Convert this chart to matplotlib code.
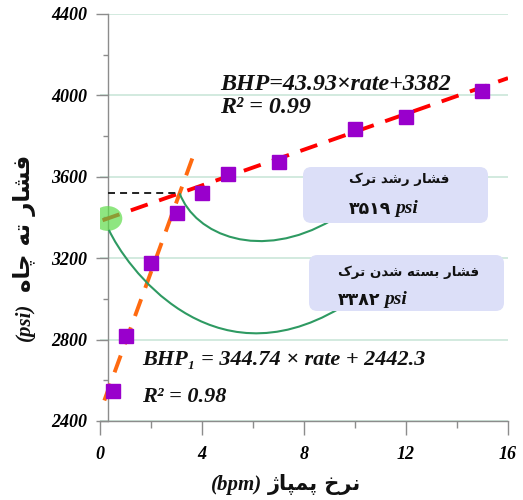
import matplotlib
matplotlib.use("Agg")
import matplotlib.pyplot as plt
from matplotlib.patches import Ellipse, FancyBboxPatch, PathPatch
from matplotlib.path import Path

# pump rate (bpm) vs bottom-hole pressure (psi)
rate = [0.5, 1, 2, 3, 4, 5, 7, 10, 12, 15]
bhp = [2545, 2820, 3175, 3420, 3520, 3615, 3675, 3835, 3895, 4020]

# linear fits below / above the fracture opening point
low_slope, low_icpt = 344.74, 2442.3
high_slope, high_icpt = 43.93, 3382
low_r2, high_r2 = 0.98, 0.99
low_span = [0.17, 3.7]
high_span = [0.1, 16]

propagation_p = 3519   # crack growth pressure
closure_p = 3382       # crack closure pressure

x_ticks = [0, 4, 8, 12, 16]
y_ticks = [2400, 2800, 3200, 3600, 4000, 4400]

SERIF = ["Liberation Serif", "DejaVu Serif"]
FA_FONT = ["DejaVu Sans"]
FA_DIGITS = str.maketrans("0123456789", "۰۱۲۳۴۵۶۷۸۹")

# Persian contextual forms: isolated, final, initial, medial
FORMS = {
    "ا": ("\uFE8D", "\uFE8E", None, None),
    "ب": ("\uFE8F", "\uFE90", "\uFE91", "\uFE92"),
    "ت": ("\uFE95", "\uFE96", "\uFE97", "\uFE98"),
    "خ": ("\uFEA5", "\uFEA6", "\uFEA7", "\uFEA8"),
    "د": ("\uFEA9", "\uFEAA", None, None),
    "ر": ("\uFEAD", "\uFEAE", None, None),
    "ژ": ("\uFB8A", "\uFB8B", None, None),
    "س": ("\uFEB1", "\uFEB2", "\uFEB3", "\uFEB4"),
    "ش": ("\uFEB5", "\uFEB6", "\uFEB7", "\uFEB8"),
    "ف": ("\uFED1", "\uFED2", "\uFED3", "\uFED4"),
    "م": ("\uFEE1", "\uFEE2", "\uFEE3", "\uFEE4"),
    "ن": ("\uFEE5", "\uFEE6", "\uFEE7", "\uFEE8"),
    "ه": ("\uFEE9", "\uFEEA", "\uFEEB", "\uFEEC"),
    "پ": ("\uFB56", "\uFB57", "\uFB58", "\uFB59"),
    "چ": ("\uFB7A", "\uFB7B", "\uFB7C", "\uFB7D"),
    "ک": ("\uFB8E", "\uFB8F", "\uFB90", "\uFB91"),
}


def shape_fa(text):
    """Join Persian letters and return them in visual (left-to-right) order."""
    out = []
    for i, ch in enumerate(text):
        if ch not in FORMS:
            out.append(ch)
            continue
        iso, fin, ini, med = FORMS[ch]
        prev = text[i - 1] if i > 0 else ""
        nxt = text[i + 1] if i + 1 < len(text) else ""
        join_prev = prev in FORMS and FORMS[prev][2] is not None
        join_next = nxt in FORMS and ini is not None
        if join_prev and join_next:
            out.append(med)
        elif join_prev:
            out.append(fin)
        elif join_next:
            out.append(ini)
        else:
            out.append(iso)
    return "".join(reversed(out))


W, H = 523, 500
fig = plt.figure(figsize=(W / 100, H / 100), dpi=100)
ax = fig.add_axes([100 / W, 79 / H, 408 / W, 407 / H])


def fx(px):
    return px / W


def fy(py):
    return 1 - py / H


ax.set_xlim(0, 16)
ax.set_ylim(2400, 4400)
ax.set_xticks(x_ticks)
ax.set_xticks([2, 6, 10, 14], minor=True)
ax.set_yticks(y_ticks)
ax.set_yticks([2600, 3000, 3400, 3800, 4200], minor=True)

for side in ("top", "right"):
    ax.spines[side].set_visible(False)
ax.spines["left"].set_position(("data", 0.31))
for side in ("left", "bottom"):
    ax.spines[side].set_color("#8c8c8c")
    ax.spines[side].set_linewidth(1.0)

ax.grid(axis="y", which="major", color="#cfe8dc", lw=1.3)
ax.set_axisbelow(True)

ax.tick_params(axis="y", which="major", length=8.6, width=1, color="#8c8c8c", pad=6)
ax.tick_params(axis="y", which="minor", length=3.6, width=1, color="#8c8c8c")
ax.tick_params(axis="x", which="major", length=10, width=1, color="#8c8c8c", pad=8)
ax.tick_params(axis="x", which="minor", length=5, width=1, color="#8c8c8c")
for lab in ax.get_xticklabels() + ax.get_yticklabels():
    lab.set_fontfamily(SERIF)
    lab.set_fontweight("bold")
    lab.set_fontstyle("italic")
    lab.set_fontsize(13)

# fitted lines
hx = list(high_span)
hy = [high_slope * v + high_icpt for v in hx]
ax.plot(hx, hy, color="#ff0000", lw=2.8, dashes=(4.6, 3.1), zorder=3)
lx = list(low_span)
ly = [low_slope * v + low_icpt for v in lx]
ax.plot(lx, ly, color="#ff6a10", lw=2.8, dashes=(4.6, 3.1), zorder=3)

# intersection of the two fits
x_int = (high_icpt - low_icpt) / (low_slope - high_slope)
ax.plot([0.31, x_int], [propagation_p, propagation_p], color="#222222",
        lw=1.4, dashes=(3.6, 2.6), zorder=3)

ax.plot(rate, bhp, ls="none", marker="s", ms=10.5, color="#9900cc",
        mec="#9900cc", zorder=4)

# closure point marker
ax.add_patch(Ellipse((0.3, high_slope * 0.3 + closure_p), 1.15, 122,
                     color="#5fdc4a", alpha=0.7, lw=0, zorder=5))

# curved leaders to the callouts
leader_kw = dict(facecolor="none", edgecolor="#2e9a62", lw=1.5, zorder=5)
cubic = [Path.MOVETO, Path.CURVE4, Path.CURVE4, Path.CURVE4]
ax.add_patch(PathPatch(Path([(x_int, propagation_p), (3.73, 3314),
                             (6.27, 3181), (9.10, 3388)], cubic), **leader_kw))
ax.add_patch(PathPatch(Path([(0.35, 3339), (0.98, 3167),
                             (4.31, 2577), (9.41, 2955)], cubic), **leader_kw))

# callout boxes
for (x0, y0, x1, y1) in [(303, 167, 488, 223), (309, 255, 504, 311)]:
    fig.patches.append(FancyBboxPatch(
        (fx(x0), fy(y1)), fx(x1 - x0), (y1 - y0) / H,
        boxstyle="round,pad=0,rounding_size=0.016", mutation_aspect=W / H,
        transform=fig.transFigure, facecolor="#dcdff8", edgecolor="none",
        zorder=6))

fa_kw = dict(fontfamily=FA_FONT, fontweight="bold", color="#111111", zorder=7)
psi_kw = dict(fontfamily=SERIF, fontweight="bold", fontstyle="italic",
              fontsize=14, color="#111111", zorder=7)
callouts = [
    ("فشار رشد ترک", propagation_p, 349, 179, 209),
    ("فشار بسته شدن ترک", closure_p, 338, 272, 300),
]
for title, value, left, y_title, y_value in callouts:
    fig.text(fx(left), fy(y_title), shape_fa(title), va="center",
             fontsize=9.6, **fa_kw)
    num = fig.text(fx(left), fy(y_value), str(value).translate(FA_DIGITS),
                   va="center", fontsize=12.5, **fa_kw)
    fig.texts.append(plt.Annotation("psi", xy=(1, 0.5), xycoords=num,
                                    xytext=(3, 0), textcoords="offset points",
                                    va="center", ha="left", **psi_kw))
    fig.texts[-1].set_figure(fig)

# fit equations
eq_kw = dict(fontfamily=SERIF, fontweight="bold", fontstyle="italic",
             color="#111111", va="baseline", zorder=7)
ax.text(4.7, 4025, f"BHP={high_slope}×rate+{high_icpt}", fontsize=17.3, **eq_kw)
ax.text(4.7, 3913, f"R² = {high_r2}", fontsize=17.3, **eq_kw)
ax.text(1.65, 2675, f"BHP₁ = {low_slope} × rate + {low_icpt}", fontsize=16, **eq_kw)
ax.text(1.65, 2493, f"R² = {low_r2}", fontsize=16, **eq_kw)

# axis titles
lab_kw = dict(fontfamily=SERIF, fontweight="bold", fontstyle="italic",
              fontsize=15, color="#111111")
fig.text(fx(262), fy(490), "(bpm)", ha="right", va="baseline", **lab_kw)
fig.text(fx(268), fy(490), shape_fa("نرخ پمپاژ"), ha="left", va="baseline",
         fontfamily=FA_FONT, fontweight="bold", fontsize=15, color="#111111")
fig.text(fx(25), fy(341), "(psi)", rotation=90, rotation_mode="anchor",
         ha="left", va="center", **lab_kw)
fig.text(fx(25), fy(292), shape_fa("فشار ته چاه"), rotation=90,
         rotation_mode="anchor", ha="left", va="center",
         fontfamily=FA_FONT, fontweight="bold", fontsize=16.5, color="#111111")

fig.savefig("out.png", dpi=100)
